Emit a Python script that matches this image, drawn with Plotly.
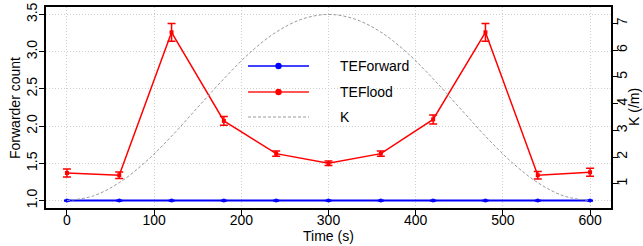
import plotly.graph_objects as go

# Data
time_s = [0, 60, 120, 180, 240, 300, 360, 420, 480, 540, 600]
teforward = [1.0, 1.0, 1.0, 1.0, 1.0, 1.0, 1.0, 1.0, 1.0, 1.0, 1.0]
teforward_err = [0.005] * 11
teflood = [1.37, 1.34, 3.26, 2.07, 1.63, 1.50, 1.63, 2.09, 3.26, 1.34, 1.38]
teflood_err = [0.055, 0.045, 0.12, 0.06, 0.035, 0.03, 0.035, 0.06, 0.12, 0.05, 0.055]

k_time = [0, 30, 60, 90, 120, 150, 180, 210, 240, 270, 300,
          330, 360, 390, 420, 450, 480, 510, 540, 570, 600]
k_vals = [0.37, 0.54, 1.04, 1.81, 2.78, 3.86, 4.93, 5.91, 6.68, 7.17, 7.34,
          7.17, 6.68, 5.91, 4.93, 3.86, 2.78, 1.81, 1.04, 0.54, 0.37]

x_ticks = [0, 100, 200, 300, 400, 500, 600]
y_ticks = [1.0, 1.5, 2.0, 2.5, 3.0, 3.5]
k_ticks = [1, 2, 3, 4, 5, 6, 7]

legend_names = ["TEForward", "TEFlood", "K"]
x_title = "Time (s)"
y_title = "Forwarder count"
y2_title = "K (/m)"

FONT = "Liberation Sans, Arial, Helvetica, sans-serif"
FS = 14

fig = go.Figure()

fig.add_trace(go.Scatter(
    x=k_time, y=k_vals, mode="lines", name="K", yaxis="y2",
    line=dict(color="#9a9a9a", width=1, dash="3px,2px"),
    line_shape="spline", showlegend=False,
))

fig.add_trace(go.Scatter(
    x=time_s, y=teflood, mode="lines+markers", name="TEFlood",
    line=dict(color="#ff0000", width=1.5),
    marker=dict(color="#ff0000", size=4, symbol="square"),
    error_y=dict(type="data", array=teflood_err, color="#ff0000", thickness=1.5, width=4),
    showlegend=False,
))

fig.add_trace(go.Scatter(
    x=time_s, y=teforward, mode="lines+markers", name="TEForward",
    line=dict(color="#0000ff", width=2),
    marker=dict(color="#0000ff", size=4),
    error_y=dict(type="data", array=teforward_err, color="#0000ff", thickness=1.5, width=3),
    showlegend=False,
))

# Geometry of the plot area in pixels
plot_left, plot_right, plot_top, plot_bottom = 46, 611, 7, 208
pw = plot_right - plot_left
ph = plot_bottom - plot_top

def px2paper_x(px):
    return (px - plot_left) / pw

def px2paper_y(py):
    return (plot_bottom - py) / ph

# Manual legend (inside plot, no box)
rows_y = [66, 92, 117]
styles = [
    dict(color="#0000ff", width=1.5, dash="solid"),
    dict(color="#ff5555", width=2, dash="solid"),
    dict(color="#9a9a9a", width=1, dash="3px,2px"),
]
marker_cols = ["#0000ff", "#ff0000", None]
for name, ry, st, mc in zip(legend_names, rows_y, styles, marker_cols):
    fig.add_shape(type="line", xref="paper", yref="paper",
                  x0=px2paper_x(248), x1=px2paper_x(309),
                  y0=px2paper_y(ry), y1=px2paper_y(ry),
                  line=st)
    if mc:
        r = 3.2
        fig.add_shape(type="circle", xref="paper", yref="paper",
                      x0=px2paper_x(278.5 - r), x1=px2paper_x(278.5 + r),
                      y0=px2paper_y(ry + r), y1=px2paper_y(ry - r),
                      fillcolor=mc, line=dict(color=mc, width=0))
    fig.add_annotation(xref="paper", yref="paper",
                       x=px2paper_x(338), y=px2paper_y(ry),
                       text=name, showarrow=False, xanchor="left", yanchor="middle",
                       font=dict(family=FONT, size=FS, color="black"))

# Axis titles as annotations for exact placement
fig.add_annotation(xref="paper", yref="paper", x=px2paper_x(328), y=px2paper_y(236),
                   text=x_title, showarrow=False, xanchor="center", yanchor="middle",
                   font=dict(family=FONT, size=FS, color="black"))
fig.add_annotation(xref="paper", yref="paper", x=px2paper_x(15), y=px2paper_y(108),
                   text=y_title, showarrow=False, xanchor="center", yanchor="middle",
                   textangle=-90, font=dict(family=FONT, size=FS, color="black"))
fig.add_annotation(xref="paper", yref="paper", x=px2paper_x(634), y=px2paper_y(107),
                   text=y2_title, showarrow=False, xanchor="center", yanchor="middle",
                   textangle=-90, font=dict(family=FONT, size=FS, color="black"))

axis_common = dict(
    showline=True, linecolor="black", linewidth=1.5,
    ticks="outside", ticklen=5, tickwidth=1, tickcolor="black",
    zeroline=False, automargin=False,
    tickfont=dict(family=FONT, size=FS, color="black"),
)

GRID = dict(showgrid=True, gridcolor="#cfcfcf", griddash="1px,2px", gridwidth=1)

fig.update_layout(
    width=643, height=246,
    margin=dict(l=plot_left, r=643 - plot_right, t=plot_top, b=246 - plot_bottom),
    paper_bgcolor="white", plot_bgcolor="white",
    font=dict(family=FONT, size=FS, color="black"),
    xaxis=dict(
        range=[-24, 624], tickvals=x_ticks, ticktext=[str(v) for v in x_ticks],
        ticklabelstandoff=-7,
        mirror=True, **GRID, **axis_common,
    ),
    yaxis=dict(
        range=[0.9, 3.6], tickvals=y_ticks, ticktext=[f"{v:.1f}" for v in y_ticks],
        tickangle=-90, ticklabelstandoff=-3,
        mirror=True, **GRID, **axis_common,
    ),
    yaxis2=dict(
        range=[0.09, 7.62], tickvals=k_ticks, ticktext=[str(v) for v in k_ticks],
        tickangle=-90, overlaying="y", side="right", ticklabelstandoff=-8,
        showgrid=False,
        **axis_common,
    ),
)

fig.write_html("out.html", config={"displayModeBar": False},
               post_script="document.body.style.margin='0';document.body.style.overflow='hidden';")
